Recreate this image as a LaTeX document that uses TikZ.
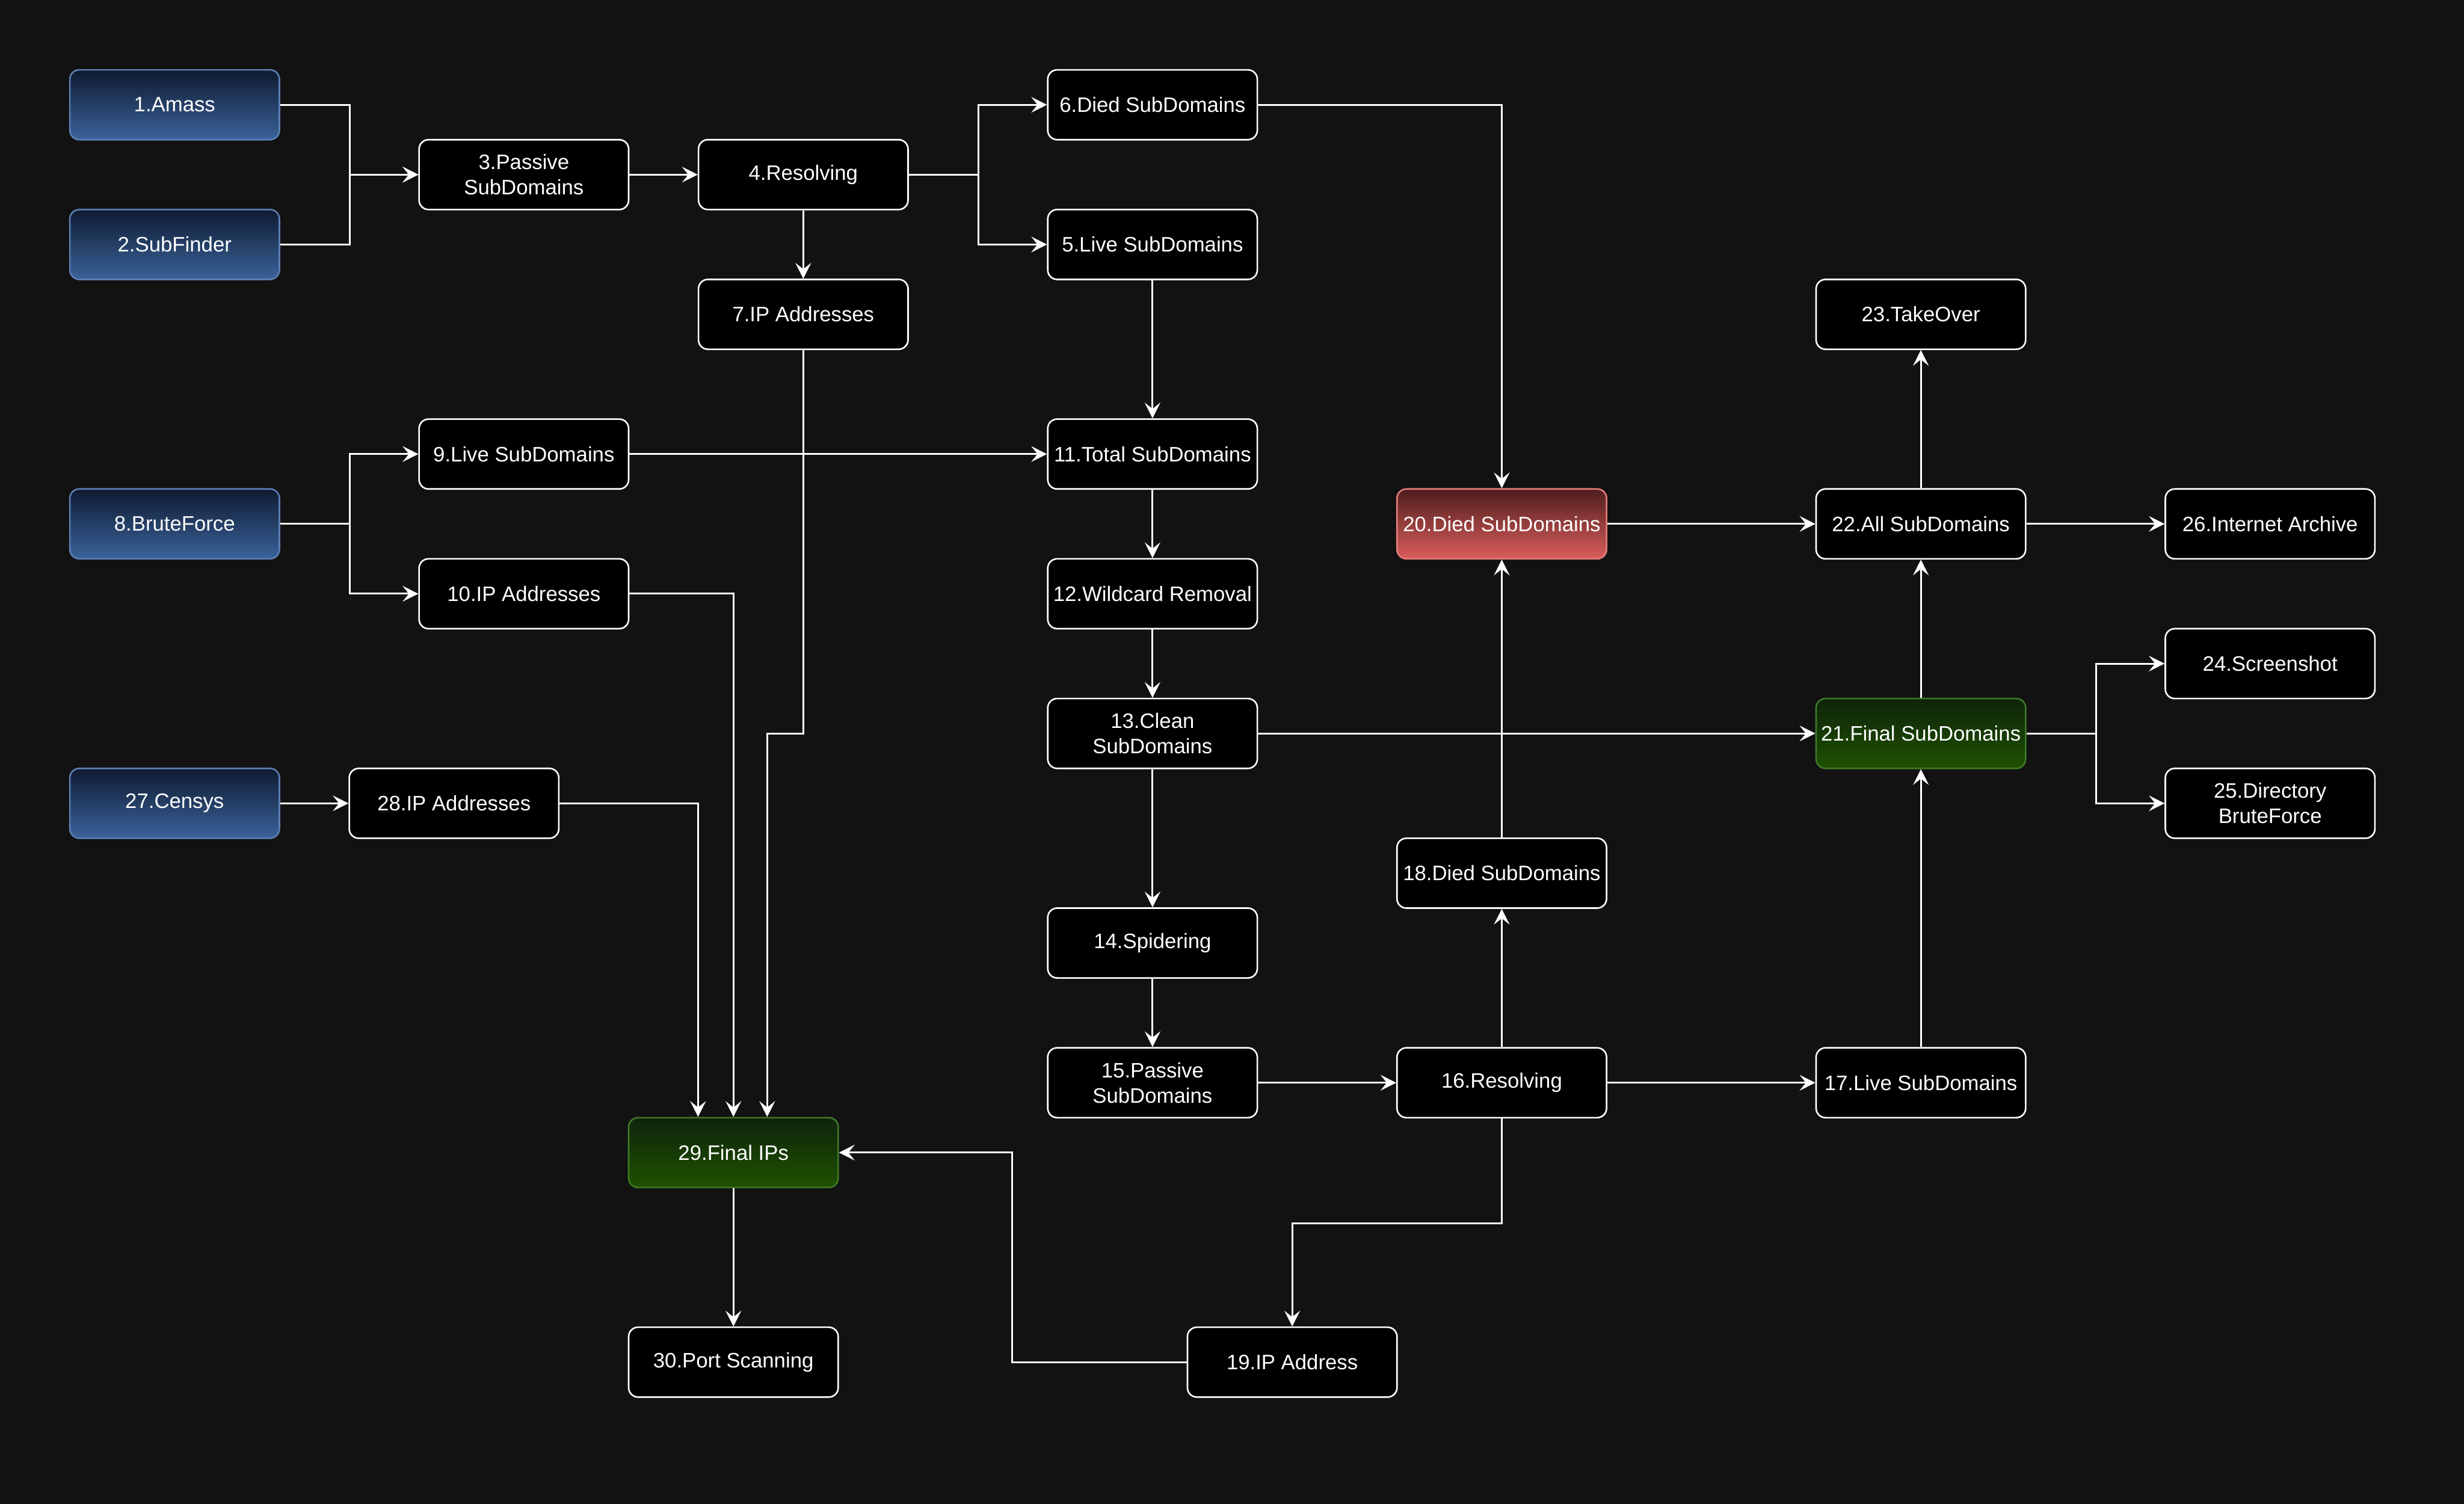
\documentclass[tikz,border=0pt]{standalone}
\usepackage{fontspec}
\setmainfont{Liberation Sans}
\usetikzlibrary{arrows.meta}
\definecolor{bg}{HTML}{121212}
\definecolor{bluetop}{HTML}{0E1A30}
\definecolor{bluebot}{HTML}{3B639B}
\definecolor{blueline}{HTML}{5B7FB4}
\definecolor{redtop}{HTML}{4F1E1E}
\definecolor{redbot}{HTML}{D95D5B}
\definecolor{redline}{HTML}{E57C78}
\definecolor{greentop}{HTML}{0F240C}
\definecolor{greenbot}{HTML}{1E5100}
\definecolor{greenline}{HTML}{3E7A27}
\tikzset{
  box/.style={rectangle, rounded corners=6pt, minimum width=133.35pt, minimum height=44.45pt,
    inner sep=0pt, align=center, text=white, line width=1pt,
    font=\fontsize{13.3}{16}\selectfont},
  plain/.style={box, draw=white, fill=black},
  bluebox/.style={box, draw=blueline, top color=bluetop, bottom color=bluebot},
  redbox/.style={box, draw=redline, top color=redtop, bottom color=redbot},
  greenbox/.style={box, draw=greenline, top color=greentop, bottom color=greenbot},
  arr/.style={draw=white, line width=1.15pt, -{Stealth[length=10pt, width=10pt, inset=4pt]}}
}
\begin{document}
\begin{tikzpicture}[x=44.45pt, y=-44.45pt]
\fill[bg] (0,0) rectangle (35.276,21.53);
\useasboundingbox (0,0) rectangle (35.276,21.53);
\node[bluebox] (n1) at (2.5,1.5) {1.Amass};
\node[bluebox] (n2) at (2.5,3.5) {2.SubFinder};
\node[plain] (n3) at (7.5,2.5) {3.Passive\\SubDomains};
\node[plain] (n4) at (11.5,2.5) {4.Resolving};
\node[plain] (n6) at (16.5,1.5) {6.Died SubDomains};
\node[plain] (n5) at (16.5,3.5) {5.Live SubDomains};
\node[plain] (n7) at (11.5,4.5) {7.IP Addresses};
\node[plain] (n23) at (27.5,4.5) {23.TakeOver};
\node[plain] (n9) at (7.5,6.5) {9.Live SubDomains};
\node[plain] (n11) at (16.5,6.5) {11.Total SubDomains};
\node[bluebox] (n8) at (2.5,7.5) {8.BruteForce};
\node[redbox] (n20) at (21.5,7.5) {20.Died SubDomains};
\node[plain] (n22) at (27.5,7.5) {22.All SubDomains};
\node[plain] (n26) at (32.5,7.5) {26.Internet Archive};
\node[plain] (n10) at (7.5,8.5) {10.IP Addresses};
\node[plain] (n12) at (16.5,8.5) {12.Wildcard Removal};
\node[plain] (n24) at (32.5,9.5) {24.Screenshot};
\node[plain] (n13) at (16.5,10.5) {13.Clean\\SubDomains};
\node[greenbox] (n21) at (27.5,10.5) {21.Final SubDomains};
\node[bluebox] (n27) at (2.5,11.5) {27.Censys};
\node[plain] (n28) at (6.5,11.5) {28.IP Addresses};
\node[plain] (n25) at (32.5,11.5) {25.Directory\\BruteForce};
\node[plain] (n18) at (21.5,12.5) {18.Died SubDomains};
\node[plain] (n14) at (16.5,13.5) {14.Spidering};
\node[plain] (n15) at (16.5,15.5) {15.Passive\\SubDomains};
\node[plain] (n16) at (21.5,15.5) {16.Resolving};
\node[plain] (n17) at (27.5,15.5) {17.Live SubDomains};
\node[greenbox] (n29) at (10.5,16.5) {29.Final IPs};
\node[plain] (n30) at (10.5,19.5) {30.Port Scanning};
\node[plain] (n19) at (18.5,19.5) {19.IP Address};
% connectors
\draw[arr] (n1.east) -- ++(1,0) |- (n3.west);
\draw[arr] (n2.east) -- ++(1,0) |- (n3.west);
\draw[arr] (n3) -- (n4);
\draw[arr] (n4.east) -- ++(1,0) |- (n6.west);
\draw[arr] (n4.east) -- ++(1,0) |- (n5.west);
\draw[arr] (n4) -- (n7);
\draw[arr] (n5) -- (n11);
\draw[arr] (n6.east) -| (n20.north);
\draw[arr] (n7.south) -- (11.5,10.5) -| ([xshift=21.5pt]n29.north);
\draw[arr] (n8.east) -- ++(1,0) |- (n9.west);
\draw[arr] (n8.east) -- ++(1,0) |- (n10.west);
\draw[arr] (n9) -- (n11);
\draw[arr] (n10.east) -| (n29.north);
\draw[arr] (n28.east) -| ([xshift=-22.5pt]n29.north);
\draw[arr] (n27) -- (n28);
\draw[arr] (n11) -- (n12);
\draw[arr] (n12) -- (n13);
\draw[arr] (n13) -- (n14);
\draw[arr] (n14) -- (n15);
\draw[arr] (n13) -- (n21);
\draw[arr] (n15) -- (n16);
\draw[arr] (n16) -- (n17);
\draw[arr] (n16) -- (n18);
\draw[arr] (n18) -- (n20);
\draw[arr] (n16.south) -- ++(0,1.5) -| (n19.north);
\draw[arr] (n19.west) -- ++(-2.5,0) |- (n29.east);
\draw[arr] (n17) -- (n21);
\draw[arr] (n21) -- (n22);
\draw[arr] (n20) -- (n22);
\draw[arr] (n22) -- (n23);
\draw[arr] (n22) -- (n26);
\draw[arr] (n21.east) -- ++(1,0) |- (n24.west);
\draw[arr] (n21.east) -- ++(1,0) |- (n25.west);
\draw[arr] (n29) -- (n30);
\end{tikzpicture}
\end{document}
